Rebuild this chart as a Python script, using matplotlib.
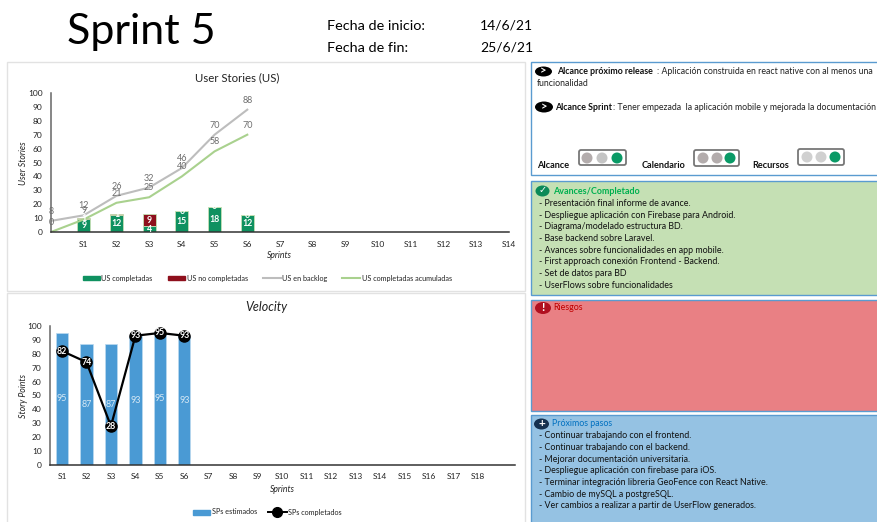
import numpy as np
import matplotlib
matplotlib.use("Agg")
import matplotlib.pyplot as plt
from matplotlib.patches import Rectangle, Circle, Ellipse, FancyBboxPatch
from matplotlib.lines import Line2D

plt.rcParams['font.family'] = ['Lato', 'DejaVu Sans']

W, H = 878, 522

# data
sprints_us = ["S%d" % i for i in range(1, 15)]
us_done = [9, 12, 4, 15, 18, 12]
us_not_done = [1, 1, 9, 0, 0, 0]
us_backlog = [8, 12, 26, 32, 46, 70, 88]
us_accum = [0, 9, 21, 25, 40, 58, 70]

sprints_v = ["S%d" % i for i in range(1, 19)]
sp_est = [95, 87, 87, 93, 95, 93]
sp_done = [82, 74, 28, 93, 95, 93]

avances = ["- Presentación final informe de avance.",
           "- Despliegue aplicación con Firebase para Android.",
           "- Diagrama/modelado estructura BD.",
           "- Base backend sobre Laravel.",
           "- Avances sobre funcionalidades en app mobile.",
           "- First approach conexión Frontend - Backend.",
           "- Set de datos para BD",
           "- UserFlows sobre funcionalidades"]
pasos = ["- Continuar trabajando con el frontend.",
         "- Continuar trabajando con el backend.",
         "- Mejorar documentación universitaria.",
         "- Despliegue aplicación con firebase para iOS.",
         "- Terminar integración libreria GeoFence con React Native.",
         "- Cambio de mySQL a postgreSQL.",
         "- Ver cambios a realizar a partir de UserFlow generados."]

GREEN = "#0f9160"
RED = "#8e0f1c"
GREY = "#bdbdbd"
LGREEN = "#a9d18e"
BLUE = "#4a9ad4"
LIGHT_ON = "#0a9a66"
LIGHT_A = "#b3acac"
LIGHT_B = "#c4c4c4"
LIGHT_C = "#d0d0d0"


def make_axes(fig, left, right, top, bottom):
    # pixel box to figure fraction
    return fig.add_axes([left / W, 1 - bottom / H, (right - left) / W, (bottom - top) / H])


fig = plt.figure(figsize=(W / 100, H / 100), dpi=100)

# background layer in pixel coordinates
bg = fig.add_axes([0, 0, 1, 1])
bg.set_xlim(0, W)
bg.set_ylim(H, 0)
bg.axis("off")


def panel(x0, y0, x1, y1, face, edge, lw=1.0):
    bg.add_patch(Rectangle((x0, y0), x1 - x0, y1 - y0, facecolor=face, edgecolor=edge, linewidth=lw))


panel(7, 62, 525, 290.5, "white", "#e2e2e2")
panel(7, 293, 525, 525, "white", "#e2e2e2")
panel(531, 62, 881, 175, "white", "#5a9bd0", 1.0)
panel(531, 181, 881, 295, "#c5e0b4", "#5a9bd0", 1.0)
panel(531, 300, 881, 411, "#e98084", "#5a9bd0", 1.0)
panel(531, 415, 881, 525, "#95c2e3", "#5a9bd0", 1.0)

# header
bg.text(67, 32, "Sprint 5", fontsize=31, va="center", color="black")
bg.text(327, 26, "Fecha de inicio:", fontsize=10.4, va="center", color="black")
bg.text(327, 48, "Fecha de fin:", fontsize=10.4, va="center", color="black")
bg.text(480, 26, "14/6/21", fontsize=10, va="center", color="black")
bg.text(480, 48, "25/6/21", fontsize=10, va="center", color="black")

# top chart
ax = make_axes(fig, 51, 509, 93, 232)
ax.patch.set_alpha(0)
x_us = np.arange(1, len(sprints_us) + 1)
x_bar = np.arange(1, len(us_done) + 1)
ax.bar(x_bar, us_done, 0.39, color=GREEN, edgecolor="#c5e0b4", linewidth=0.6)
ax.bar(x_bar, us_not_done, 0.39, bottom=us_done, color=RED, edgecolor="#c5e0b4", linewidth=0.6)
x_line = np.arange(len(us_backlog))
ax.plot(x_line, us_backlog, color=GREY, lw=1.5)
ax.plot(x_line, us_accum, color=LGREEN, lw=1.5)
ax.set_xlim(0, 14)
ax.set_ylim(0, 100)
ax.set_xticks(x_us)
ax.set_xticklabels(sprints_us)
ax.set_yticks(range(0, 101, 10))
ax.tick_params(length=0, labelsize=6, labelcolor="#222222", pad=6)
ax.tick_params(axis="x", pad=6.5)
for s in ["top", "right"]:
    ax.spines[s].set_visible(False)
ax.spines["left"].set_color("#666666")
ax.spines["bottom"].set_color("#333333")
for s in ["left", "bottom"]:
    ax.spines[s].set_linewidth(1.1)
for i, v in enumerate(us_backlog):
    ax.annotate(str(v), (i, v), xytext=(0, 5), textcoords="offset points", ha="center",
                fontsize=6.5, color="#6e6e6e")
for i, v in enumerate(us_accum):
    ax.annotate(str(v), (i, v), xytext=(0, 5), textcoords="offset points", ha="center",
                fontsize=6.5, color="#6e6e6e")
for i, (d, n) in enumerate(zip(us_done, us_not_done)):
    ax.text(i + 1, d / 2, str(d), ha="center", va="center", fontsize=6.3, color="white", fontweight="bold")
    ax.text(i + 1, d + n / 2, str(n), ha="center", va="center", fontsize=6.3, color="white", fontweight="bold")

bg.text(237, 78, "User Stories (US)", fontsize=8.2, ha="center", va="center", color="#222222")
bg.text(24, 163, "User Stories", fontsize=6.3, rotation=90, style="italic", ha="center", va="center", color="#222222")
bg.text(279, 256, "Sprints", fontsize=6.2, style="italic", ha="center", va="center", color="#222222")

# top legend
bg.add_patch(Rectangle((83, 276), 17, 4, color=GREEN))
bg.text(101, 278, "US completadas", fontsize=5.2, va="center", color="#222222")
bg.add_patch(Rectangle((168, 276), 17, 4, color=RED))
bg.text(187, 278, "US no completadas", fontsize=5.2, va="center", color="#222222")
bg.add_line(Line2D([263, 281], [278, 278], color=GREY, lw=1.5))
bg.text(282, 278, "US en backlog", fontsize=5.2, va="center", color="#222222")
bg.add_line(Line2D([342, 360], [278, 278], color=LGREEN, lw=1.5))
bg.text(362, 278, "US completadas acumuladas", fontsize=5.2, va="center", color="#222222")

# bottom chart
ax2 = make_axes(fig, 50, 515, 326, 465)
ax2.patch.set_alpha(0)
x_v = np.arange(1, len(sprints_v) + 1)
x_est = np.arange(1, len(sp_est) + 1)
ax2.bar(x_est, sp_est, 0.5, color=BLUE, edgecolor="#bcd9ef", linewidth=0.5)
ax2.plot(x_est, sp_done, color="black", lw=1.6, marker="o", ms=8, mfc="black", mec="black", clip_on=False, zorder=4)
ax2.set_xlim(0.51, 19.51)
ax2.set_ylim(0, 100)
ax2.set_xticks(x_v)
ax2.set_xticklabels(sprints_v)
ax2.set_yticks(range(0, 101, 10))
ax2.tick_params(length=0, labelsize=6, labelcolor="#222222", pad=6)
ax2.tick_params(axis="x", pad=5.5)
for s in ["top", "right"]:
    ax2.spines[s].set_visible(False)
ax2.spines["left"].set_color("#666666")
ax2.spines["bottom"].set_color("#333333")
for s in ["left", "bottom"]:
    ax2.spines[s].set_linewidth(1.1)
for x, v in zip(x_est, sp_est):
    ax2.text(x, v / 2, str(v), ha="center", va="center", fontsize=6.5, color="#d5e8f5", zorder=3)
for x, v in zip(x_est, sp_done):
    ax2.text(x, v, str(v), ha="center", va="center", fontsize=6.3, color="white", fontweight="bold",
             zorder=5, clip_on=False)

bg.text(266, 307, "Velocity", fontsize=9, style="italic", ha="center", va="center", color="#222222")
bg.text(24, 396, "Story Points", fontsize=6.3, rotation=90, style="italic", ha="center", va="center", color="#222222")
bg.text(282, 489, "Sprints", fontsize=6.2, style="italic", ha="center", va="center", color="#222222")

# bottom legend
bg.add_patch(Rectangle((193, 509.5), 17, 5, color=BLUE))
bg.text(212, 512, "SPs estimados", fontsize=5.2, va="center", color="#222222")
bg.add_line(Line2D([268, 287], [512, 512], color="black", lw=1.4))
bg.add_line(Line2D([277], [512], color="black", marker="o", ms=7))
bg.text(288, 512, "SPs completados", fontsize=5.2, va="center", color="#222222")


def icon(x, y, w, h, face, symbol, fs=7, color="white"):
    bg.add_patch(Ellipse((x, y), w, h, facecolor=face, edgecolor="none", zorder=3))
    bg.text(x, y - 0.3, symbol, fontsize=fs, ha="center", va="center", color=color, fontweight="bold", zorder=4)


def lights(x0, y0, x1, y1, centers, cy, colors):
    bg.add_patch(FancyBboxPatch((x0, y0), x1 - x0, y1 - y0, boxstyle="round,pad=0,rounding_size=2",
                                facecolor="white", edgecolor="#777777", linewidth=1.3))
    for cx, c in zip(centers, colors):
        bg.add_patch(Circle((cx, cy), 5.5, facecolor=c, edgecolor="none"))


# alcance box
icon(543.5, 71.5, 17, 10, "black", ">", fs=8)
bg.text(557, 71, "Alcance próximo release", fontsize=6.4, fontweight="bold", va="center", color="#111111")
bg.text(657, 71, ": Aplicación construida en react native con al menos una", fontsize=6.3, va="center", color="#222222")
bg.text(537, 84, "funcionalidad", fontsize=6.3, va="center", color="#222222")
icon(544, 107, 18, 11, "black", ">", fs=8)
bg.text(555, 107, "Alcance Sprint", fontsize=6.4, fontweight="bold", va="center", color="#111111")
bg.text(613, 107, ": Tener empezada  la aplicación mobile y mejorada la documentación", fontsize=6.3, va="center",
        color="#222222")
bg.text(537, 166, "Alcance", fontsize=6.6, fontweight="bold", va="center", color="#111111")
bg.text(642, 166, "Calendario", fontsize=6.6, fontweight="bold", va="center", color="#111111")
bg.text(752, 166, "Recursos", fontsize=6.6, fontweight="bold", va="center", color="#111111")
lights(579, 150, 626, 165, [587, 602, 617], 158, [LIGHT_A, LIGHT_B, LIGHT_ON])
lights(694, 150, 739, 166, [703, 717, 730], 158, [LIGHT_A, LIGHT_A, LIGHT_ON])
lights(798, 149, 844, 165, [807, 821, 835], 157, [LIGHT_C, LIGHT_C, LIGHT_ON])

# avances box
icon(542.5, 191, 14, 11, "#0c8a58", "✓", fs=7)
bg.text(553, 191, "Avances/Completado", fontsize=6.5, fontweight="bold", va="center", color="#00b050")
for i, t in enumerate(avances):
    bg.text(539, 203.5 + i * 11.65, t, fontsize=6.4, va="center", color="#111111")

# riesgos box
icon(543, 308, 16, 12, "#b01020", "!", fs=8.5)
bg.text(553, 308, "Riesgos", fontsize=6.4, va="center", color="#c00000")

# proximos pasos box
icon(541.5, 424, 15, 11, "#14304f", "+", fs=8.5)
bg.text(552, 424, "Próximos pasos", fontsize=6.4, va="center", color="#0070c0")
for i, t in enumerate(pasos):
    bg.text(539, 436 + i * 11.65, t, fontsize=6.4, va="center", color="#111111")

plt.savefig("out.png", dpi=100)
plt.close()
